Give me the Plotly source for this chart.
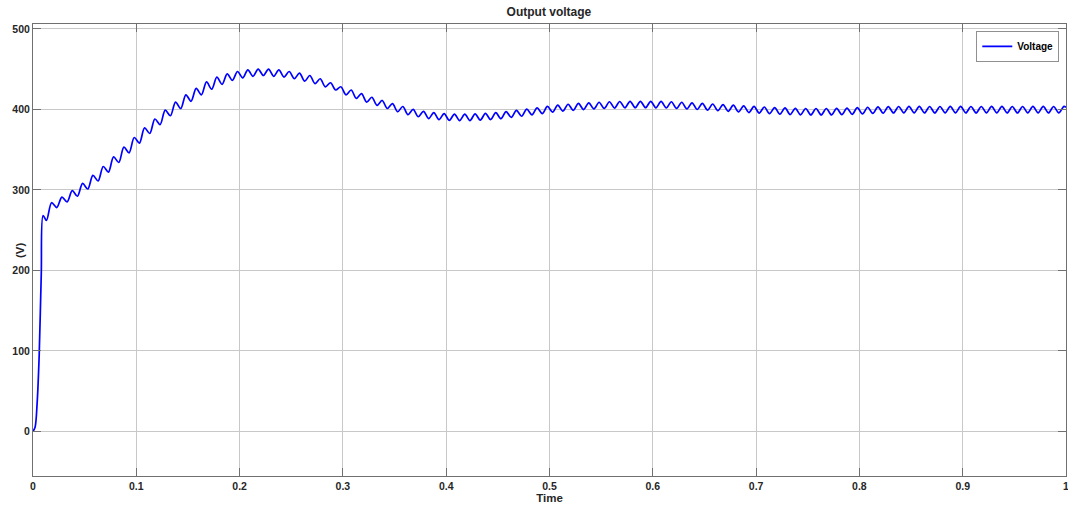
import numpy as np
import plotly.graph_objects as go

# Start-up transient (time in s, voltage in V)
rise_time = [0.0, 0.002, 0.004, 0.006, 0.008, 0.0098]
rise_volt = [0.0, 5.0, 35.0, 95.0, 195.0, 268.0]

# Ripple extremes: alternating trough / peak every 5 ms starting at t = 0.013 s
ripple_start = 0.013
ripple_step = 0.005
ripple_volt = [
    262, 284, 278, 291, 285, 299, 292, 308, 301, 318,
    311, 329, 322, 341, 334, 353, 346, 365, 358, 377,
    370, 388, 381, 399, 392, 409, 401, 418, 410, 426,
    418, 434, 425, 440, 431, 444, 436, 447, 439, 449,
    441, 450, 442, 450, 441, 449, 440, 447, 438, 445,
    435, 442, 432, 438, 428, 433, 424, 428, 418, 424,
    413.5, 419.5, 409, 415, 405, 411, 401, 407, 397, 403.5,
    393.5, 400, 390.8, 397.5, 388.5, 395.8, 387.2, 394.7, 386.3, 394.1,
    386, 394, 386, 394.3, 386.6, 395, 387.3, 395.8, 388.4, 397.2,
    390, 398.7, 391.4, 400.2, 393, 401.7, 394.6, 403.6, 396.5, 405.2,
    397.8, 406.3, 398.8, 407.3, 399.7, 408.1, 400.5, 408.8, 401.1, 409.4,
    401.6, 409.7, 401.9, 410, 402, 410, 402, 410, 401.9, 409.8,
    401.7, 409.4, 401.1, 408.8, 400.5, 408.1, 399.8, 407.4, 399, 406.6,
    398.3, 405.9, 397.5, 405.1, 396.8, 404.4, 396, 403.6, 395.3, 402.9,
    394.6, 402.2, 394, 401.7, 393.5, 401.3, 393.2, 401, 393, 401,
    393, 401, 393, 401.2, 393.4, 401.6, 393.8, 402, 394.3, 402.6,
    394.9, 403.1, 395.3, 403.4, 395.5, 403.5, 395.6, 403.6, 395.6, 403.6,
    395.5, 403.5, 395.5, 403.5, 395.6, 403.6, 395.6, 403.6, 395.5, 403.5,
    395.5, 403.5, 395.6, 403.6, 395.6, 403.6, 395.5, 403.5, 395.5, 403.5,
    395.6, 403.6, 395.6, 403.6, 395.5, 403.5, 395.6, 403.6,
]
end_time = [1.0]
end_volt = [402.5]

x_ticks = [0, 0.1, 0.2, 0.3, 0.4, 0.5, 0.6, 0.7, 0.8, 0.9, 1]
x_tick_text = ["0", "0.1", "0.2", "0.3", "0.4", "0.5", "0.6", "0.7", "0.8", "0.9", "1"]
y_ticks = [0, 100, 200, 300, 400, 500]

ripple_time = list(np.round(ripple_start + ripple_step * np.arange(len(ripple_volt)), 4))
time = rise_time + ripple_time + end_time
volt = rise_volt + ripple_volt + end_volt

FONT = "Liberation Sans, Arial, sans-serif"
TXT = "#262626"

fig = go.Figure()
fig.add_trace(go.Scatter(
    x=time, y=volt, mode="lines", name="<b>Voltage</b>",
    line=dict(color="#0000ff", width=1.7, shape="spline", smoothing=0.9),
))

axis_common = dict(
    showgrid=True, gridcolor="#c8c8c8", gridwidth=1,
    showline=True, linecolor="#707070", linewidth=1, mirror="ticks",
    ticks="inside", ticklen=8, tickcolor="#707070", tickwidth=1,
    zeroline=False, ticklabeloverflow="allow", automargin=False,
    tickfont=dict(family=FONT, size=10.5, color=TXT, weight="bold"),
)

fig.update_xaxes(
    range=[0, 1], tickvals=x_ticks, ticktext=x_tick_text,
    title=dict(text="<b>Time</b>", font=dict(family=FONT, size=11.5, color=TXT), standoff=3),
    **axis_common,
)
fig.update_yaxes(
    range=[-55.5, 506], tickvals=y_ticks,
    **axis_common,
)

fig.update_layout(
    width=1068, height=509,
    margin=dict(l=33, r=2, t=24, b=33),
    paper_bgcolor="white", plot_bgcolor="white",
    title=dict(text="<b>Output voltage</b>", x=0.514, xanchor="center", y=0.985, yanchor="top",
               font=dict(family=FONT, size=12, color=TXT)),
    showlegend=True,
    legend=dict(x=0.9935, xanchor="right", y=0.985, yanchor="top",
                bgcolor="white", bordercolor="#909090", borderwidth=1,
                font=dict(family=FONT, size=10, color="black"),
                itemwidth=30, tracegroupgap=0),
    annotations=[dict(
        text="<b>(V)</b>", textangle=-90, xref="paper", yref="paper",
        x=-0.0125, y=0.5, xanchor="center", yanchor="middle", showarrow=False,
        font=dict(family=FONT, size=11.5, color=TXT),
    )],
)

fig.write_html("out.html")
